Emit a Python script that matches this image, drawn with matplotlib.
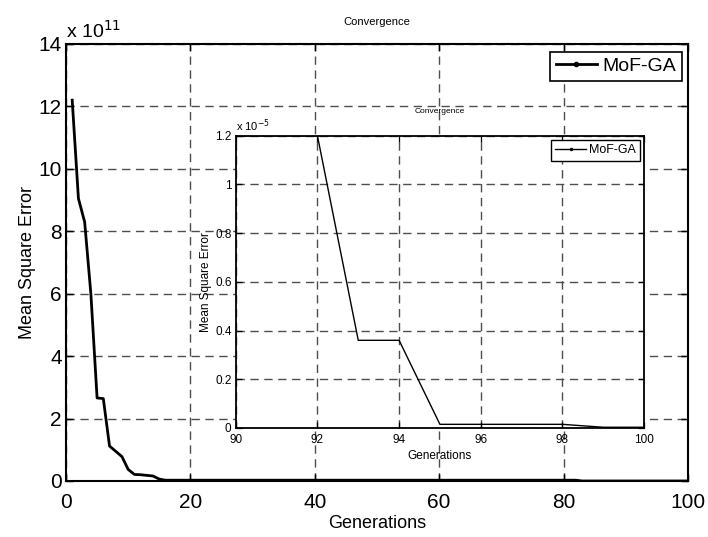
"""Convergence plot of MoF-GA with zoomed inset"""
import matplotlib
matplotlib.use('Agg')
import matplotlib.pyplot as plt
from matplotlib.lines import Line2D
import numpy as np

plt.rcParams['font.family'] = ['Liberation Sans', 'DejaVu Sans']

# generation index and mean square error
generations = np.arange(1, 101)
mse = np.array([
    1.22e12, 9.05e11, 8.30e11, 6.00e11, 2.66e11, 2.64e11, 1.12e11, 9.5e10, 7.8e10, 3.7e10,
    2.1e10, 2.0e10, 1.8e10, 1.6e10, 6.0e9, 2.5e9, 2.5e9, 2.5e9, 2.5e9, 2.5e9,
    2.5e9, 2.5e9, 2.5e9, 2.5e9, 2.5e9, 2.5e9, 2.5e9, 2.5e9, 2.5e9, 2.5e9,
    2.5e9, 2.5e9, 2.5e9, 2.5e9, 2.5e9, 2.5e9, 2.5e9, 2.5e9, 2.5e9, 2.5e9,
    2.5e9, 2.5e9, 2.5e9, 2.5e9, 2.5e9, 2.5e9, 2.5e9, 2.5e9, 2.5e9, 2.5e9,
    2.5e9, 2.5e9, 2.5e9, 2.5e9, 2.5e9, 2.5e9, 2.5e9, 2.5e9, 2.5e9, 2.5e9,
    2.5e9, 2.5e9, 2.5e9, 2.5e9, 2.5e9, 2.5e9, 2.5e9, 2.5e9, 2.5e9, 2.5e9,
    2.5e9, 2.5e9, 2.5e9, 2.5e9, 2.5e9, 2.5e9, 2.5e9, 2.5e9, 2.5e9, 2.5e9,
    2.5e9, 2.5e9, 4.1e-5, 3.3e-5, 2.6e-5, 2.2e-5, 1.8e-5, 1.5e-5, 1.3e-5, 1.2e-5,
    1.2e-5, 1.2e-5, 3.6e-6, 3.6e-6, 1.5e-7, 1.5e-7, 1.5e-7, 1.5e-7, 3.0e-8, 3.0e-8,
])
main_xticks = [0, 20, 40, 60, 80, 100]
main_yticks = [0, 2, 4, 6, 8, 10, 12, 14]
inset_xticks = [90, 92, 94, 96, 98, 100]
inset_yticks = [0, 0.2, 0.4, 0.6, 0.8, 1, 1.2]
inset_ylabels = ['0', '0.2', '0.4', '0.6', '0.8', '1', '1.2']
series_name = 'MoF-GA'

GRID = dict(color='0.3', linestyle=(0, (6, 4)), linewidth=1.0)


def style_axes(ax, spine_w, tick_len, label_size):
    """MATLAB-like box axes"""
    for sp in ax.spines.values():
        sp.set_linewidth(spine_w)
    ax.tick_params(direction='in', top=True, right=True, length=tick_len,
                   width=spine_w * 0.7, labelsize=label_size, pad=3)
    ax.grid(True, **GRID)
    ax.set_axisbelow(True)


fig = plt.figure(figsize=(7.08, 5.37), dpi=100)

# main axes
ax = fig.add_axes([0.0932, 0.1043, 0.8785, 0.8138])
ax.plot(generations, mse / 1e11, color='black', linewidth=2)
ax.set_xlim(0, 100)
ax.set_ylim(0, 14)
ax.set_xticks(main_xticks)
ax.set_yticks(main_yticks)
style_axes(ax, 1.5, 5, 15)
ax.tick_params(axis='x', pad=9)
ax.set_xlabel('Generations', fontsize=13, labelpad=2)
ax.set_ylabel('Mean Square Error', fontsize=13, labelpad=2)
ax.set_title('Convergence', fontsize=8, pad=14)
ax.text(0.0, 1.005, r'x 10$^{11}$', transform=ax.transAxes, fontsize=14,
        ha='left', va='bottom')
handle = Line2D([], [], color='black', linewidth=2, marker='.', markersize=6)
leg = ax.legend([handle], [series_name], loc='upper right', fontsize=14,
                bbox_to_anchor=(0.9905, 0.982), borderaxespad=0, fancybox=False,
                edgecolor='black', framealpha=1, numpoints=1, handlelength=2.1,
                borderpad=0.3, handletextpad=0.3)
leg.get_frame().set_linewidth(1.2)

# inset axes
ax2 = fig.add_axes([0.3330, 0.2030, 0.5767, 0.5443])
ax2.plot(generations, mse / 1e-5, color='black', linewidth=1)
ax2.set_xlim(90, 100)
ax2.set_ylim(0, 1.2)
ax2.set_xticks(inset_xticks)
ax2.set_yticks(inset_yticks)
ax2.set_yticklabels(inset_ylabels)
style_axes(ax2, 1.3, 4, 8.5)
ax2.tick_params(axis='x', pad=4)
ax2.set_xlabel('Generations', fontsize=8.5, labelpad=3)
ax2.set_ylabel('Mean Square Error', fontsize=8.5, labelpad=2)
ax2.set_title('Convergence', fontsize=6, pad=16)
ax2.text(0.0, 1.005, r'x 10$^{-5}$', transform=ax2.transAxes, fontsize=8,
         ha='left', va='bottom')
handle2 = Line2D([], [], color='black', linewidth=1, marker='.', markersize=3)
leg2 = ax2.legend([handle2], [series_name], loc='upper right', fontsize=9,
                  bbox_to_anchor=(0.99, 0.985), borderaxespad=0, fancybox=False,
                  edgecolor='black', framealpha=1, numpoints=1, handlelength=2.5,
                  borderpad=0.35, handletextpad=0.2)
leg2.get_frame().set_linewidth(1.0)

fig.savefig('out.png', dpi=100)
